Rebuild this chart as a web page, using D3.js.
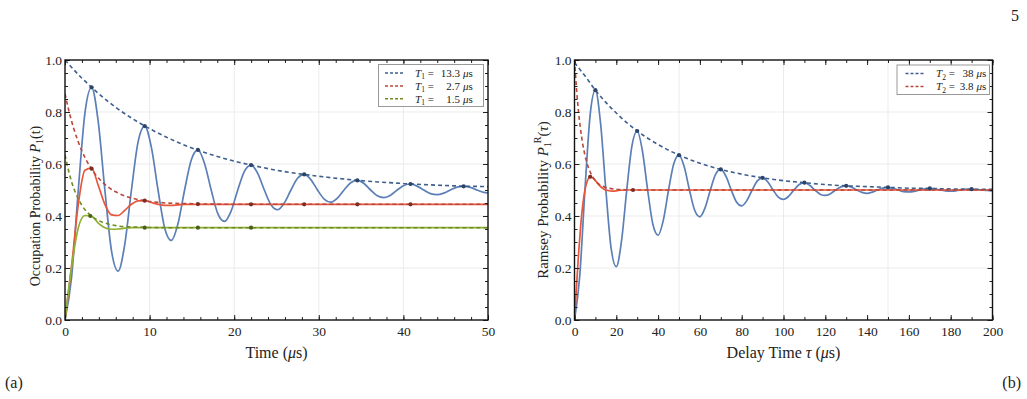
<!DOCTYPE html>
<html><head><meta charset="utf-8">
<script src="https://cdn.jsdelivr.net/npm/d3@7"></script>
<style>
body{margin:0;background:#fff;}
svg{display:block;font-family:"Liberation Serif","DejaVu Serif",serif;}
</style>
</head><body>
<svg id="c" width="1027" height="399"></svg>
<script>
// ---------------- DATA ----------------
const leftXTicks = [0, 10, 20, 30, 40, 50];
const rightXTicks = [0, 20, 40, 60, 80, 100, 120, 140, 160, 180, 200];
const yTicks = [0.0, 0.2, 0.4, 0.6, 0.8, 1.0];
const leftLegend = [
  {sub: "1", val: "13.3", key: "blue"},
  {sub: "1", val: "2.7", key: "red"},
  {sub: "1", val: "1.5", key: "green"}
];
const rightLegend = [
  {sub: "2", val: "38", key: "blue"},
  {sub: "2", val: "3.8", key: "red"}
];

// (a) T1 curves: [time µs, probability]
const aBlueSolid = [[0,0],[0.785,0.167],[1.571,0.5],[2.356,0.796],[3.142,0.895],[3.927,0.763],[4.712,0.5],[5.498,0.266],[6.283,0.188],[7.069,0.292],[7.854,0.5],[8.639,0.685],[9.425,0.746],[10.21,0.664],[10.996,0.5],[11.781,0.354],[12.566,0.306],[13.352,0.370],[14.137,0.5],[14.923,0.615],[15.708,0.654],[16.493,0.602],[17.279,0.5],[18.064,0.409],[18.85,0.379],[19.635,0.419],[20.42,0.5],[21.206,0.572],[21.991,0.596],[22.777,0.564],[23.562,0.5],[24.347,0.443],[25.133,0.424],[25.918,0.450],[26.704,0.5],[27.489,0.545],[28.274,0.560],[29.06,0.540],[29.845,0.5],[30.631,0.465],[31.416,0.453],[32.201,0.469],[32.987,0.5],[33.772,0.528],[34.558,0.537],[35.343,0.525],[36.128,0.5],[36.914,0.478],[37.699,0.471],[38.485,0.480],[39.27,0.5],[40.055,0.517],[40.841,0.523],[41.626,0.515],[42.412,0.5],[43.197,0.486],[43.982,0.482],[44.768,0.488],[45.553,0.5],[46.338,0.511],[47.124,0.514],[47.909,0.510],[48.695,0.5],[49.48,0.491],[50,0.489]];
const aBlueDash = [[0,1.0],[1,0.964],[2,0.930],[3,0.899],[4,0.870],[5,0.843],[6,0.818],[8,0.774],[10,0.736],[12,0.703],[14,0.674],[16,0.650],[18,0.629],[20,0.611],[22,0.596],[25,0.576],[28,0.561],[31,0.549],[34,0.539],[37,0.531],[40,0.525],[43,0.520],[46,0.516],[50,0.513]];
const aBlueDots = [[3.142,0.895],[9.425,0.746],[15.708,0.654],[21.991,0.596],[28.274,0.560],[34.558,0.537],[40.841,0.523],[47.124,0.514]];

const aRedSolid = [[0,0],[0.785,0.210],[1.571,0.445],[2.356,0.576],[3.142,0.584],[3.927,0.518],[4.712,0.445],[5.498,0.404],[6.283,0.402],[7.069,0.422],[7.854,0.445],[8.639,0.458],[9.425,0.459],[10.21,0.452],[10.996,0.445],[11.781,0.441],[12.566,0.441],[13.352,0.443],[14.137,0.445],[16,0.445],[20,0.445],[30,0.445],[40,0.445],[50,0.445]];
const aRedDash = [[0,0.870],[0.5,0.799],[1,0.740],[1.5,0.691],[2,0.650],[2.5,0.616],[3,0.588],[3.5,0.564],[4,0.544],[5,0.514],[6,0.493],[7,0.478],[8,0.468],[9,0.461],[10,0.456],[12,0.450],[14,0.448],[17,0.446],[20,0.445],[50,0.445]];
const aRedDots = [[3.142,0.582],[9.425,0.459],[15.708,0.446],[21.991,0.445],[28.274,0.445],[34.558,0.445],[40.841,0.445]];

const aGreenSolid = [[0,0],[0.785,0.206],[1.571,0.355],[2.356,0.402],[3.142,0.399],[3.927,0.373],[4.712,0.355],[5.498,0.349],[6.283,0.350],[7.069,0.353],[7.854,0.355],[10,0.355],[20,0.355],[30,0.355],[40,0.355],[50,0.355]];
const aGreenDash = [[0,0.635],[0.5,0.564],[1,0.510],[1.5,0.471],[2,0.441],[2.5,0.419],[3,0.403],[3.5,0.391],[4,0.382],[5,0.370],[6,0.363],[7,0.359],[8,0.358],[10,0.356],[12,0.355],[50,0.355]];
const aGreenDots = [[3.0,0.400],[9.425,0.355],[15.708,0.355],[21.991,0.355]];

// (b) Ramsey curves: [delay µs, probability]
const bBlueSolid = [[0,0],[2.5,0.169],[5,0.5],[7.5,0.790],[10,0.884],[12.5,0.754],[15,0.5],[17.5,0.277],[20,0.205],[22.5,0.304],[25,0.5],[27.5,0.671],[30,0.727],[32.5,0.650],[35,0.5],[37.5,0.368],[40,0.326],[42.5,0.384],[45,0.5],[47.5,0.601],[50,0.634],[52.5,0.589],[55,0.5],[57.5,0.422],[60,0.397],[62.5,0.432],[65,0.5],[67.5,0.560],[70,0.579],[72.5,0.552],[75,0.5],[77.5,0.454],[80,0.439],[82.5,0.460],[85,0.5],[87.5,0.535],[90,0.547],[92.5,0.531],[95,0.5],[97.5,0.473],[100,0.464],[102.5,0.476],[105,0.5],[107.5,0.521],[110,0.528],[112.5,0.518],[115,0.5],[117.5,0.484],[120,0.479],[122.5,0.486],[125,0.5],[127.5,0.512],[130,0.516],[132.5,0.511],[135,0.5],[137.5,0.491],[140,0.487],[142.5,0.492],[145,0.5],[147.5,0.507],[150,0.510],[152.5,0.506],[155,0.5],[157.5,0.494],[160,0.493],[162.5,0.495],[165,0.5],[167.5,0.504],[170,0.506],[172.5,0.504],[175,0.5],[177.5,0.497],[180,0.496],[182.5,0.497],[185,0.5],[187.5,0.503],[190,0.503],[192.5,0.502],[195,0.5],[197.5,0.498],[200,0.497]];
const bBlueDash = [[0,0.99],[5,0.939],[10,0.884],[15,0.837],[20,0.796],[25,0.759],[30,0.727],[40,0.675],[50,0.634],[60,0.603],[70,0.579],[80,0.561],[90,0.547],[100,0.536],[110,0.528],[120,0.521],[130,0.516],[140,0.513],[150,0.510],[160,0.507],[170,0.506],[180,0.504],[190,0.503],[200,0.503]];
const bBlueDots = [[10,0.884],[30,0.727],[50,0.634],[70,0.579],[90,0.547],[110,0.528],[130,0.516],[150,0.510],[170,0.506],[190,0.503]];

const bRedSolid = [[0,0],[1,0.134],[2,0.261],[3,0.366],[4,0.446],[5,0.5],[6,0.532],[7,0.547],[8,0.549],[9,0.545],[10,0.536],[12,0.517],[14,0.504],[15,0.5],[16,0.498],[18,0.496],[20,0.497],[22,0.499],[25,0.5],[30,0.5],[60,0.5],[100,0.5],[150,0.5],[200,0.5]];
const bRedDash = [[0,1.0],[1,0.885],[2,0.795],[3,0.727],[4,0.674],[5,0.634],[6,0.603],[8,0.561],[10,0.536],[12,0.521],[15,0.510],[20,0.503],[25,0.501],[30,0.5],[200,0.5]];
const bRedDots = [[7.5,0.551],[28,0.5]];

// ---------------- STYLE ----------------
const col = {
  blue:  {solid: "#5b7fb6", dash: "#3f5f8f", dot: "#2c4468"},
  red:   {solid: "#e8553a", dash: "#b9483a", dot: "#7c2c22"},
  green: {solid: "#8fb032", dash: "#6f8c24", dot: "#4a5e18"}
};
const SERIF = '"Liberation Serif","Times New Roman",serif';

const svg = d3.select("#c");
svg.append("rect").attr("width",1027).attr("height",399).attr("fill","#fff");

function panel(opt){
  const x = d3.scaleLinear().domain(opt.xDomain).range([opt.left, opt.right]);
  const y = d3.scaleLinear().domain([0,1]).range([opt.bottom, opt.top]);
  const g = svg.append("g");

  // grid
  g.selectAll(".gx").data(opt.gridX).join("line")
    .attr("x1", d=>x(d)).attr("x2", d=>x(d)).attr("y1", opt.top).attr("y2", opt.bottom)
    .attr("stroke","#ebebeb").attr("stroke-width",1);
  g.selectAll(".gy").data([0.2,0.4,0.6,0.8]).join("line")
    .attr("y1", d=>y(d)).attr("y2", d=>y(d)).attr("x1", opt.left).attr("x2", opt.right)
    .attr("stroke","#ebebeb").attr("stroke-width",1);

  const line = d3.line().x(d=>x(d[0])).y(d=>y(d[1])).curve(d3.curveMonotoneX);
  const clipId = "clip"+opt.id;
  svg.append("clipPath").attr("id",clipId).append("rect")
    .attr("x",opt.left).attr("y",opt.top-2).attr("width",opt.right-opt.left).attr("height",opt.bottom-opt.top+2);
  const pg = g.append("g").attr("clip-path","url(#"+clipId+")");

  opt.series.forEach(s=>{
    pg.append("path").attr("d", line(s.solid)).attr("fill","none")
      .attr("stroke", col[s.key].solid).attr("stroke-width",1.7);
  });
  opt.series.forEach(s=>{
    pg.append("path").attr("d", line(s.dash)).attr("fill","none")
      .attr("stroke", col[s.key].dash).attr("stroke-width",1.6).attr("stroke-dasharray","4,3");
  });
  opt.series.forEach(s=>{
    pg.selectAll(null).data(s.dots).join("circle")
      .attr("cx", d=>x(d[0])).attr("cy", d=>y(d[1])).attr("r",2.1)
      .attr("fill", col[s.key].dot);
  });

  // axes (inward ticks on all four sides)
  const minorX = opt.minorX, minorY = d3.range(0,1.0001,0.05);
  const bottomAx = d3.axisBottom(x).tickValues(opt.xTicks).tickSize(-5).tickPadding(6).tickFormat(d=>d);
  const topAx = d3.axisTop(x).tickValues(opt.xTicks).tickSize(-5).tickFormat("");
  const leftAx = d3.axisLeft(y).tickValues(yTicks).tickSize(-5).tickPadding(3).tickFormat(d3.format(".1f"));
  const rightAx = d3.axisRight(y).tickValues(yTicks).tickSize(-5).tickFormat("");
  const mb = d3.axisBottom(x).tickValues(minorX).tickSize(-3).tickFormat("");
  const mt = d3.axisTop(x).tickValues(minorX).tickSize(-3).tickFormat("");
  const ml = d3.axisLeft(y).tickValues(minorY).tickSize(-3).tickFormat("");
  const mr = d3.axisRight(y).tickValues(minorY).tickSize(-3).tickFormat("");

  const axes = [
    [bottomAx, `translate(0,${opt.bottom})`], [topAx, `translate(0,${opt.top})`],
    [leftAx, `translate(${opt.left},0)`], [rightAx, `translate(${opt.right},0)`],
    [mb, `translate(0,${opt.bottom})`], [mt, `translate(0,${opt.top})`],
    [ml, `translate(${opt.left},0)`], [mr, `translate(${opt.right},0)`]
  ];
  axes.forEach(([ax,tr])=>{
    const a = g.append("g").attr("transform",tr).call(ax);
    a.attr("font-family", SERIF);
    a.select(".domain").remove();
    a.selectAll("line").attr("stroke","#222").attr("stroke-width",1);
    a.selectAll("text").attr("font-family",SERIF).attr("font-size",13.5).attr("fill","#222");
  });
  g.append("rect").attr("x",opt.left).attr("y",opt.top)
    .attr("width",opt.right-opt.left).attr("height",opt.bottom-opt.top)
    .attr("fill","none").attr("stroke","#111").attr("stroke-width",1.4);

  // legend
  const L = opt.legend;
  g.append("rect").attr("x",L.x).attr("y",L.y).attr("width",L.w).attr("height",L.h)
    .attr("fill","#fff").attr("stroke","#999").attr("stroke-width",1);
  L.items.forEach((it,i)=>{
    const cy = L.y + 8.5 + i*12.9;
    g.append("line").attr("x1",L.x+L.dx0).attr("x2",L.x+L.dx0+20).attr("y1",cy).attr("y2",cy)
      .attr("stroke", col[it.key].dash).attr("stroke-width",1.5).attr("stroke-dasharray","3,2");
    const t = g.append("text").attr("x",L.tx).attr("y",cy+3.8).attr("font-size",11).attr("fill","#222");
    t.append("tspan").attr("font-style","italic").text("T");
    t.append("tspan").attr("font-size",7.5).attr("dy",2.5).text(it.sub);
    t.append("tspan").attr("dy",-2.5).text(" =");
    g.append("text").attr("x",L.numX).attr("y",cy+3.8).attr("font-size",11).attr("fill","#222")
      .attr("text-anchor","end").text(it.val);
    const u = g.append("text").attr("x",L.numX+3).attr("y",cy+3.8).attr("font-size",11).attr("fill","#222");
    u.append("tspan").attr("font-style","italic").text("μ");
    u.append("tspan").text("s");
  });
  return {x,y,g};
}

const A = panel({
  id:"a", left:65, right:488, top:60, bottom:320,
  xDomain:[0,50], xTicks:leftXTicks, minorX:d3.range(0,50.001,2), gridX:[10,20,30,40],
  series:[
    {key:"blue", solid:aBlueSolid, dash:aBlueDash, dots:aBlueDots},
    {key:"red", solid:aRedSolid, dash:aRedDash, dots:aRedDots},
    {key:"green", solid:aGreenSolid, dash:aGreenDash, dots:aGreenDots}
  ],
  legend:{x:378.5, y:64.5, w:105, h:42, dx0:6.5, tx:415, numX:460, items:leftLegend}
});
const B = panel({
  id:"b", left:574.5, right:992.5, top:60, bottom:320,
  xDomain:[0,200], xTicks:rightXTicks, minorX:d3.range(0,200.001,10), gridX:[50,100,150],
  series:[
    {key:"blue", solid:bBlueSolid, dash:bBlueDash, dots:bBlueDots},
    {key:"red", solid:bRedSolid, dash:bRedDash, dots:bRedDots}
  ],
  legend:{x:897, y:65, w:92.5, h:29.5, dx0:8.5, tx:936, numX:973.5, items:rightLegend}
});

// axis titles
function xTitle(cx, parts){
  const t = svg.append("text").attr("x",cx).attr("y",358).attr("text-anchor","middle")
    .attr("font-size",16).attr("fill","#222");
  parts.forEach(p=>{ const s=t.append("tspan").text(p[0]); if(p[1]) s.attr("font-style","italic"); });
}
xTitle(276.5, [["Time ("],["μ",1],["s)"]]);
xTitle(783.5, [["Delay Time "],["τ",1],[" ("],["μ",1],["s)"]]);

const ya = svg.append("text").attr("transform","translate(40,206) rotate(-90)")
  .attr("text-anchor","middle").attr("font-size",14).attr("fill","#222");
ya.append("tspan").text("Occupation Probability ");
ya.append("tspan").attr("font-style","italic").text("P");
ya.append("tspan").attr("font-size",10).attr("dy",3).text("1");
ya.append("tspan").attr("dy",-3).text("(t)");

const yb = svg.append("text").attr("transform","translate(548,200) rotate(-90)")
  .attr("text-anchor","middle").attr("font-size",15).attr("fill","#222");
yb.append("tspan").text("Ramsey Probability ");
yb.append("tspan").attr("font-style","italic").text("P");
yb.append("tspan").attr("font-size",10).attr("dy",3).text("1");
yb.append("tspan").attr("font-size",10).attr("dy",-10).attr("dx",-1).text("R");
yb.append("tspan").attr("dy",7).text("(");
yb.append("tspan").attr("font-style","italic").text("τ");
yb.append("tspan").text(")");

svg.append("text").attr("x",5).attr("y",388).attr("font-size",16).attr("fill","#222").text("(a)");
svg.append("text").attr("x",1021).attr("y",388).attr("text-anchor","end").attr("font-size",16).attr("fill","#222").text("(b)");
svg.append("text").attr("x",1019).attr("y",21).attr("text-anchor","end").attr("font-size",16).attr("fill","#222").text("5");
</script>
</body></html>
